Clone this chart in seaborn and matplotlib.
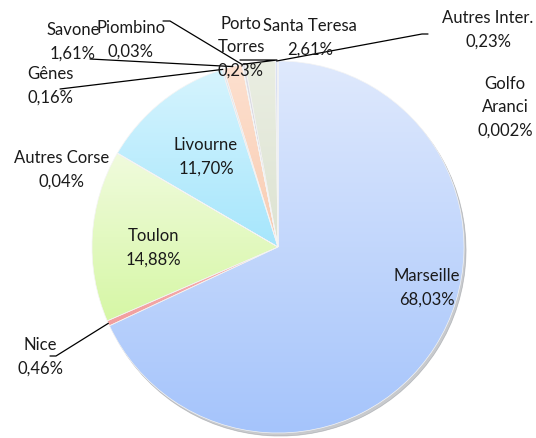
import matplotlib
matplotlib.use("Agg")
import matplotlib.pyplot as plt
import numpy as np
import seaborn as sns
from matplotlib.colors import LinearSegmentedColormap

# data
ports = ["Marseille", "Nice", "Toulon", "Autres Corse", "Livourne", "Gênes",
         "Savone", "Piombino", "Porto Torres", "Santa Teresa", "Autres Inter.",
         "Golfo Aranci"]
shares = [68.03, 0.46, 14.88, 0.04, 11.70, 0.16, 1.61, 0.03, 0.23, 2.61, 0.23, 0.002]
pct_labels = ["68,03%", "0,46%", "14,88%", "0,04%", "11,70%", "0,16%",
              "1,61%", "0,03%", "0,23%", "2,61%", "0,23%", "0,002%"]
name_labels = ["Marseille", "Nice", "Toulon", "Autres Corse", "Livourne", "Gênes",
               "Savone", "Piombino", "Porto\nTorres", "Santa Teresa",
               "Autres Inter.", "Golfo\nAranci"]

# gradient colours (top, bottom) per slice
top_colors = ["#dfe9fd", "#f6b2b2", "#f0fbdd", "#e8e0f0", "#d6f4fe", "#e6e6ee",
              "#fde0cf", "#e2e2e2", "#e0e0e8", "#eaeee2", "#dbe1f3", "#e0e0e0"]
bottom_colors = ["#a5c4fb", "#f29e9e", "#d6f7a5", "#d8cce6", "#a6e6fc", "#d0d0dc",
                 "#f9ccb2", "#d0d0d0", "#ccccd8", "#dde3d2", "#cbd3ec", "#d0d0d0"]

# label placement in pixels (centre of text block)
label_px = [(427, 288), (40, 357), (153, 248), (62, 170), (206, 157), (50, 86),
            (73, 42), (131, 40), (241, 47), (310, 38), (488, 30), (505, 107)]
# leader lines: pixel points from label side, then the slice end
leader_px = {1: [(50, 357), (56, 357)],
             5: [(60, 90)],
             6: [(90, 60)],
             7: [(163, 22), (170, 22)],
             8: [(240, 61), (277, 61)],
             10: [(428, 35), (422, 35)]}

W, H = 536, 439
CX, CY, R = 278, 248, 186


def px(x, y):
    return (x - CX) / R, (CY - y) / R


sns.set_theme(style="white")
plt.rcParams["font.family"] = ["Lato", "DejaVu Sans"]

fig = plt.figure(figsize=(W / 100, H / 100), dpi=100)
ax = fig.add_axes([0, 0, 1, 1])

wedges, _ = ax.pie(shares, startangle=90, counterclock=False, radius=1,
                   colors=top_colors,
                   shadow={"ox": 0.008, "oy": -0.012, "shade": 0.55, "alpha": 0.35},
                   wedgeprops=dict(edgecolor="#f4f4f4", linewidth=0.5))

grad = np.linspace(0, 1, 256).reshape(-1, 1)
for w, c0, c1 in zip(wedges, top_colors, bottom_colors):
    bb = w.get_path().get_extents(w.get_patch_transform())
    cmap = LinearSegmentedColormap.from_list("g", [c0, c1])
    im = ax.imshow(grad, cmap=cmap, aspect="auto", interpolation="bicubic",
                   extent=[bb.x0, bb.x1, bb.y0, bb.y1], origin="upper", zorder=1)
    im.set_clip_path(w)
    w.set_facecolor("none")
    w.set_zorder(2)

for i, (name, pct) in enumerate(zip(name_labels, pct_labels)):
    tx, ty = px(*label_px[i])
    ax.text(tx, ty, f"{name}\n{pct}", ha="center", va="center", fontsize=12,
            color="#1a1a1a", linespacing=1.55, zorder=4)

for i, pts in leader_px.items():
    w = wedges[i]
    mid = np.deg2rad((w.theta1 + w.theta2) / 2)
    xs = [px(*p)[0] for p in pts] + [np.cos(mid)]
    ys = [px(*p)[1] for p in pts] + [np.sin(mid)]
    ax.plot(xs, ys, color="black", lw=0.9, zorder=3)

ax.set_xlim(-CX / R, (W - CX) / R)
ax.set_ylim(-(H - CY) / R, CY / R)
ax.set_aspect("auto")
ax.axis("off")

fig.savefig("out.png", dpi=100, facecolor="white")
